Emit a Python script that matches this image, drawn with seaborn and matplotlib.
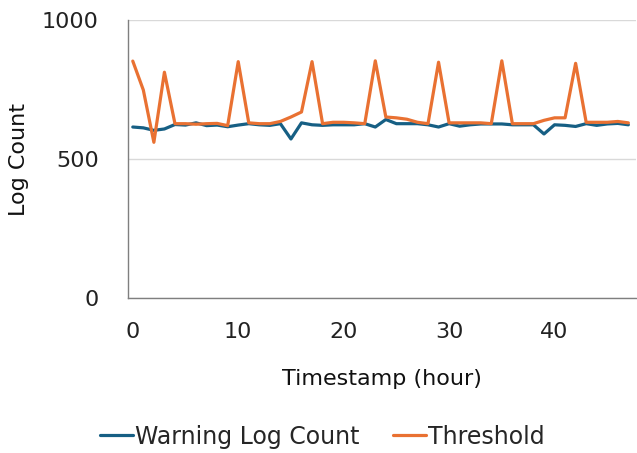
import numpy as np
import pandas as pd
import matplotlib
matplotlib.use("Agg")
import matplotlib.pyplot as plt
from matplotlib.lines import Line2D
import seaborn as sns

hours = list(range(48))
warning = [615, 612, 603, 608, 624, 622, 630, 620, 622, 616,
           622, 627, 623, 621, 627, 572, 630, 623, 621, 623,
           623, 623, 627, 615, 642, 627, 627, 627, 623, 615,
           627, 618, 623, 626, 626, 626, 623, 623, 623, 590,
           623, 621, 617, 627, 621, 626, 628, 623]
threshold = [852, 748, 560, 812, 627, 627, 625, 627, 628, 620,
             850, 630, 627, 627, 635, 651, 669, 850, 627, 632,
             632, 630, 627, 853, 651, 648, 643, 632, 627, 848,
             630, 630, 630, 630, 627, 853, 627, 627, 627, 639,
             648, 648, 844, 632, 632, 632, 635, 630]
series_names = ["Warning Log Count", "Threshold"]
colors = ["#165F84", "#E97132"]
x_ticks = [0, 10, 20, 30, 40]
y_ticks = [0, 500, 1000]

df = pd.DataFrame({
    "hour": hours * 2,
    "value": warning + threshold,
    "series": [series_names[0]] * len(hours) + [series_names[1]] * len(hours),
})

sns.set_theme(style="white")
plt.rcParams["font.family"] = ["DejaVu Sans"]

fig = plt.figure(figsize=(6.37, 4.53), dpi=100)
ax = fig.add_axes([0.201, 0.342, 0.797, 0.614])

sns.lineplot(data=df, x="hour", y="value", hue="series",
             palette=dict(zip(series_names, colors)), linewidth=2.3,
             ax=ax, legend=False)

ax.set_xlim(-0.45, 47.7)
ax.set_ylim(0, 1000)
ax.set_xticks(x_ticks)
ax.set_yticks(y_ticks)
ax.yaxis.grid(True, color="#D9D9D9", linewidth=1)
ax.xaxis.grid(False)
ax.set_axisbelow(True)
for s in ["top", "right"]:
    ax.spines[s].set_visible(False)
ax.spines["left"].set_color("#7F7F7F")
ax.spines["bottom"].set_color("#7F7F7F")
ax.spines["left"].set_linewidth(1)
ax.spines["bottom"].set_linewidth(1)
ax.tick_params(axis="both", labelsize=16, colors="#222222", length=0)
ax.tick_params(axis="y", pad=21)
ax.tick_params(axis="x", pad=17)
ax.set_xlabel("Timestamp (hour)", fontsize=16, color="#111111", labelpad=20)
ax.set_ylabel("Log Count", fontsize=16, color="#111111", labelpad=9)

handles = [Line2D([0], [0], color=c, linewidth=2.3) for c in colors]
fig.legend(handles, series_names, loc="center", bbox_to_anchor=(0.506, 0.036),
           ncol=2, frameon=False, fontsize=17, handlelength=1.4,
           handletextpad=0.1, columnspacing=1.4)

fig.savefig("out.png", dpi=100)
